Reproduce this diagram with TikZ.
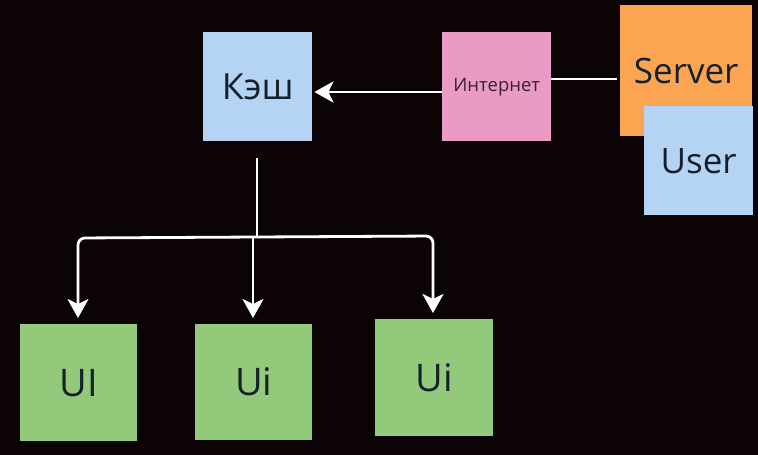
\documentclass[tikz,border=0pt]{standalone}
\usepackage{fontspec}
\setmainfont{Open Sans}
\usetikzlibrary{arrows.meta}
\definecolor{bg}{HTML}{0C0305}
\definecolor{cblue}{HTML}{B5D3F3}
\definecolor{cpink}{HTML}{E99BC5}
\definecolor{corange}{HTML}{FBA552}
\definecolor{cgreen}{HTML}{93C97B}
\definecolor{ctext}{HTML}{16202C}
\definecolor{ctextp}{HTML}{3A2035}
\tikzset{
  note/.style={draw=none, inner sep=0pt, anchor=north west, text=ctext},
  conn/.style={draw=white, line width=2.8pt, rounded corners=7pt},
  tip/.style={-{Stealth[length=19pt,width=21pt,inset=5pt]}},
}
\begin{document}
\begin{tikzpicture}[x=1pt,y=-1pt]
\fill[bg] (0,0) rectangle (758,455);
\useasboundingbox (0,0) rectangle (758,455);
% notes
\node[note, fill=cblue, minimum width=109pt, minimum height=109pt] (kesh) at (203,32) {};
\node[font=\fontsize{36}{40}\selectfont, text=ctext] at (kesh.center) {Кэш};
\node[note, fill=cpink, minimum width=109pt, minimum height=109pt] (inet) at (442,32) {};
\node[font=\fontsize{18.5}{22}\selectfont, text=ctextp] at (inet.center) {Интернет};
\node[note, fill=corange, minimum width=132pt, minimum height=131pt] (server) at (620,5) {};
\node[font=\fontsize{35}{40}\selectfont, text=ctext] at (server.center) {Server};
\node[note, fill=cblue, minimum width=109pt, minimum height=109pt] (user) at (644,106) {};
\node[font=\fontsize{35}{40}\selectfont, text=ctext] at (user.center) {User};
\node[note, fill=cgreen, minimum width=117pt, minimum height=117pt] (ui1) at (20,324) {};
\node[font=\fontsize{38}{42}\selectfont, text=ctext] at (ui1.center) {UI};
\node[note, fill=cgreen, minimum width=117pt, minimum height=116pt] (ui2) at (195,324) {};
\node[font=\fontsize{38}{42}\selectfont, text=ctext] at (ui2.center) {Ui};
\node[note, fill=cgreen, minimum width=118pt, minimum height=117pt] (ui3) at (375,319) {};
\node[font=\fontsize{38}{42}\selectfont, text=ctext] at (ui3.center) {Ui};
% connectors
\coordinate (sEnd) at ([xshift=-3pt]server.west |- 0,79);
\draw[conn] (sEnd) -- (inet.east |- 0,79);
\draw[conn, tip] (inet.west |- 0,92) -- ([xshift=2pt]kesh.east |- 0,92);
\coordinate (top) at (257,158);
\coordinate (hub) at (257,237);
\draw[conn] (top) -- (hub);
\draw[conn, tip] (hub) -- (78,238) -- ([yshift=6pt]ui1.north -| 78,0);
\draw[conn, tip] (253,238) -- ([yshift=6pt]ui2.north -| 253,0);
\draw[conn, tip] (hub) -- (433,236) -- ([yshift=6pt]ui3.north -| 433,0);
\end{tikzpicture}
\end{document}
